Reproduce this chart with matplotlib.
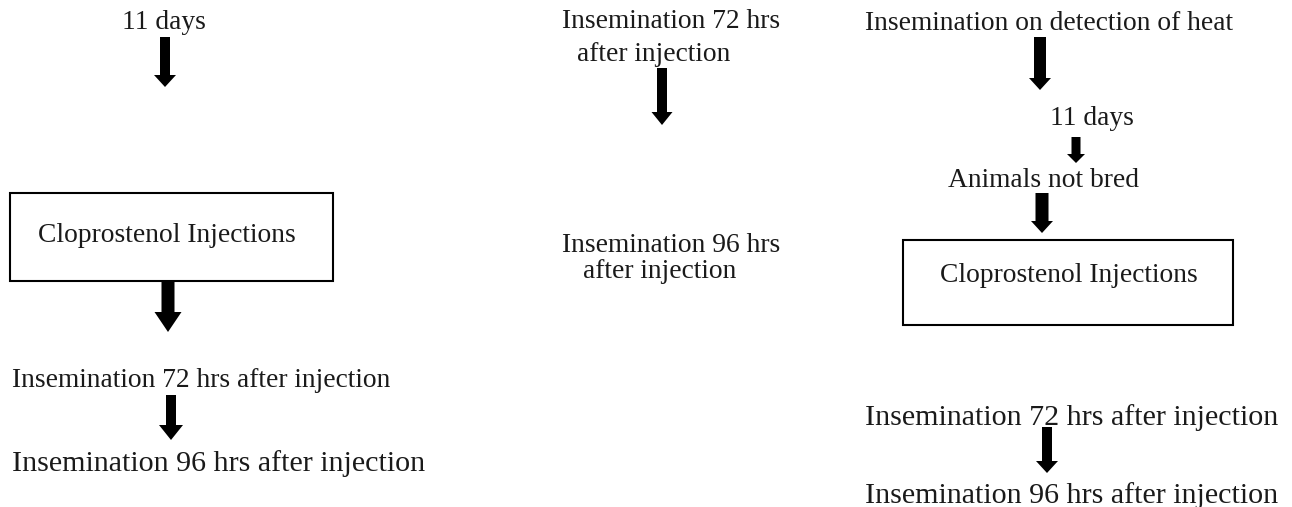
#!/usr/bin/env python3
"""Flow diagram of cloprostenol synchronisation and insemination schedules."""

import matplotlib.pyplot as plt
from matplotlib.patches import FancyArrow, Rectangle

# labels of each column, top to bottom
LEFT_LABELS = [
    "11 days",
    "Cloprostenol Injections",
    "Insemination 72 hrs after injection",
    "Insemination 96 hrs after injection",
]
MIDDLE_LABELS = [
    "Insemination 72 hrs",
    "after injection",
    "Insemination 96 hrs",
    "after injection",
]
RIGHT_LABELS = [
    "Insemination on detection of heat",
    "11 days",
    "Animals not bred",
    "Cloprostenol Injections",
    "Insemination 72 hrs after injection",
    "Insemination 96 hrs after injection",
]

# layout (pixels): left x, baseline y, font size in px
LEFT_POS = [(122, 29, 27.5), (38, 242, 27.5), (12, 387, 27.5), (12, 471, 30)]
MIDDLE_POS = [(562, 28, 27.5), (577, 61, 27.5), (562, 252, 27.5), (583, 278, 27.5)]
RIGHT_POS = [
    (865, 30, 27.5),
    (1050, 125, 27.5),
    (948, 187, 27.5),
    (940, 282, 27.5),
    (865, 425, 30),
    (865, 503, 30),
]

# boxes: x0, y0, x1, y1
BOXES = [(10, 193, 333, 281), (903, 240, 1233, 325)]

# arrows: centre x, top y, tip y, shaft width, head width, head length
ARROWS = [
    (165, 37, 87, 10, 22, 12),
    (168, 281, 332, 13, 27, 20),
    (171, 395, 440, 10, 24, 15),
    (662, 68, 125, 10, 21, 13),
    (1040, 37, 90, 12, 22, 12),
    (1076, 137, 163, 9, 18, 9),
    (1042, 193, 233, 13, 22, 12),
    (1047, 427, 473, 10, 22, 12),
]

W, H, DPI = 1292, 507, 100
FONT = "Liberation Serif"
INK = "#1a1a1a"


def main():
    fig = plt.figure(figsize=(W / DPI, H / DPI), dpi=DPI)
    ax = fig.add_axes([0, 0, 1, 1])
    ax.set_xlim(0, W)
    ax.set_ylim(H, 0)
    ax.axis("off")

    for labels, positions in (
        (LEFT_LABELS, LEFT_POS),
        (MIDDLE_LABELS, MIDDLE_POS),
        (RIGHT_LABELS, RIGHT_POS),
    ):
        for label, (x, y, size_px) in zip(labels, positions):
            ax.text(
                x, y, label,
                ha="left", va="baseline",
                fontsize=size_px * 72 / DPI,
                family=FONT, color=INK,
            )

    for x0, y0, x1, y1 in BOXES:
        ax.add_patch(
            Rectangle((x0, y0), x1 - x0, y1 - y0, fill=False,
                      edgecolor="black", linewidth=1.5)
        )

    for x, y0, y1, width, head_w, head_l in ARROWS:
        ax.add_patch(
            FancyArrow(x, y0, 0, y1 - y0, width=width, head_width=head_w,
                       head_length=head_l, length_includes_head=True,
                       color="black", linewidth=0)
        )

    fig.savefig("out.png", dpi=DPI)


if __name__ == "__main__":
    main()
